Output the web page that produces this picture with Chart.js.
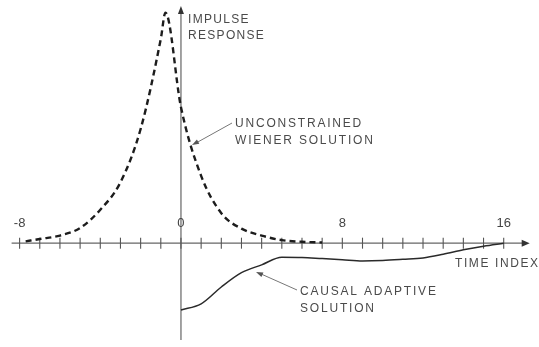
<!DOCTYPE html>
<html>
<head>
<meta charset="utf-8">
<script src="https://cdn.jsdelivr.net/npm/chart.js@4.4.1/dist/chart.umd.min.js"></script>
<style>
  html, body { margin: 0; padding: 0; background: #ffffff; }
  #wrap { width: 539px; height: 347px; position: relative; }
</style>
</head>
<body>
<div id="wrap"><canvas id="c" width="539" height="347"></canvas></div>
<script>
// Time index axis: a tick at every sample, numbers at every eighth one
const tickValues = [-8,-7,-6,-5,-4,-3,-2,-1,0,1,2,3,4,5,6,7,8,9,10,11,12,13,14,15,16];
const labeledTicks = [-8, 0, 8, 16];
const tickLabels = ['-8', '0', '8', '16'];

// Unconstrained (two-sided) Wiener solution
const wienerX = [-7.7, -7, -6, -5, -4, -3, -2, -1, -0.77, 0, 1, 2, 3, 4, 5, 6, 7];
const wienerY = [0.008, 0.018, 0.033, 0.066, 0.145, 0.264, 0.495, 0.886, 1.0, 0.59, 0.292, 0.13, 0.063, 0.033, 0.013, 0.006, 0.003];

// Causal adaptive solution
const causalX = [0, 1, 2, 3, 4, 5, 6, 7, 8, 9, 10, 11, 12, 13, 14, 15, 16];
const causalY = [-0.29, -0.263, -0.19, -0.128, -0.094, -0.061, -0.062, -0.067, -0.072, -0.077, -0.075, -0.070, -0.064, -0.048, -0.029, -0.013, 0.0];

const toPoints = (xs, ys) => xs.map((x, i) => ({ x: x, y: ys[i] }));

const FONT = '"Liberation Sans", Arial, sans-serif';
const INK = '#4a4a4a';

function arrowHead(ctx, x1, y1, x2, y2, len, half) {
  const a = Math.atan2(y2 - y1, x2 - x1);
  ctx.beginPath();
  ctx.moveTo(x2, y2);
  ctx.lineTo(x2 - len * Math.cos(a) + half * Math.sin(a), y2 - len * Math.sin(a) - half * Math.cos(a));
  ctx.lineTo(x2 - len * Math.cos(a) - half * Math.sin(a), y2 - len * Math.sin(a) + half * Math.cos(a));
  ctx.closePath();
  ctx.fill();
}

function spacedText(ctx, text, x, y, spacing) {
  ctx.letterSpacing = spacing + 'px';
  ctx.fillText(text, x, y);
  ctx.letterSpacing = '0px';
}

// Axes drawn through the origin, with arrows, cross ticks and numbers above
const crossAxes = {
  id: 'crossAxes',
  beforeDatasetsDraw(chart) {
    const ctx = chart.ctx;
    const xs = chart.scales.x, ys = chart.scales.y;
    const x0 = xs.getPixelForValue(0);
    const y0 = ys.getPixelForValue(0);
    const left = xs.getPixelForValue(-8) - 8;
    const tip = xs.getPixelForValue(16) + 26;
    ctx.save();
    ctx.strokeStyle = '#666';
    ctx.fillStyle = '#333';
    ctx.lineWidth = 1.2;
    // horizontal axis
    ctx.beginPath();
    ctx.moveTo(left, y0);
    ctx.lineTo(tip - 4, y0);
    ctx.stroke();
    arrowHead(ctx, tip - 10, y0, tip, y0, 8, 3.5);
    // vertical axis
    const top = ys.getPixelForValue(ys.max) - 2;
    const bottom = ys.getPixelForValue(ys.min);
    ctx.beginPath();
    ctx.moveTo(x0, bottom);
    ctx.lineTo(x0, top + 4);
    ctx.stroke();
    arrowHead(ctx, x0, top + 10, x0, top, 8, 3);
    // tick marks
    ctx.strokeStyle = '#555';
    ctx.lineWidth = 1.1;
    tickValues.forEach(v => {
      const px = xs.getPixelForValue(v);
      ctx.beginPath();
      ctx.moveTo(px, y0 - 5.5);
      ctx.lineTo(px, y0 + 5.5);
      ctx.stroke();
    });
    // numbers above the axis
    ctx.fillStyle = '#444';
    ctx.font = '13px ' + FONT;
    ctx.textAlign = 'center';
    ctx.textBaseline = 'middle';
    labeledTicks.forEach((v, i) => {
      ctx.fillText(tickLabels[i], xs.getPixelForValue(v), y0 - 20);
    });
    ctx.restore();
  },
  afterDatasetsDraw(chart) {
    const ctx = chart.ctx;
    ctx.save();
    ctx.fillStyle = INK;
    ctx.textAlign = 'left';
    ctx.textBaseline = 'middle';
    ctx.font = '12px ' + FONT;
    spacedText(ctx, 'IMPULSE', 188, 20, 1.3);
    spacedText(ctx, 'RESPONSE', 188, 36, 1.3);
    spacedText(ctx, 'UNCONSTRAINED', 235, 124, 1.8);
    spacedText(ctx, 'WIENER SOLUTION', 235, 141, 1.8);
    spacedText(ctx, 'TIME INDEX', 455, 264, 1.6);
    spacedText(ctx, 'CAUSAL ADAPTIVE', 300, 292, 1.8);
    spacedText(ctx, 'SOLUTION', 300, 309, 1.8);
    // leader arrows
    ctx.strokeStyle = '#777';
    ctx.fillStyle = '#555';
    ctx.lineWidth = 1;
    ctx.beginPath();
    ctx.moveTo(232, 123);
    ctx.lineTo(196, 143);
    ctx.stroke();
    arrowHead(ctx, 232, 123, 192, 145, 7, 2.5);
    ctx.beginPath();
    ctx.moveTo(297, 290);
    ctx.lineTo(260, 273.5);
    ctx.stroke();
    arrowHead(ctx, 297, 290, 256, 272, 7, 2.5);
    ctx.restore();
  }
};

new Chart(document.getElementById('c'), {
  type: 'line',
  data: {
    datasets: [
      {
        label: 'UNCONSTRAINED WIENER SOLUTION',
        data: toPoints(wienerX, wienerY),
        borderColor: '#1c1c1c',
        borderWidth: 2.4,
        borderDash: [6, 4],
        pointRadius: 0,
        fill: false,
        cubicInterpolationMode: 'monotone',
        clip: false
      },
      {
        label: 'CAUSAL ADAPTIVE SOLUTION',
        data: toPoints(causalX, causalY),
        borderColor: '#2a2a2a',
        borderWidth: 1.5,
        pointRadius: 0,
        fill: false,
        cubicInterpolationMode: 'monotone',
        clip: false
      }
    ]
  },
  options: {
    responsive: false,
    animation: false,
    devicePixelRatio: 1,
    layout: { padding: { left: 19.6, right: 35.3, top: 8, bottom: 7 } },
    scales: {
      x: { type: 'linear', min: -8, max: 16, display: false },
      y: { type: 'linear', min: -0.42, max: 1.02, display: false }
    },
    plugins: {
      legend: { display: false },
      tooltip: { enabled: false }
    }
  },
  plugins: [crossAxes]
});
</script>
</body>
</html>
